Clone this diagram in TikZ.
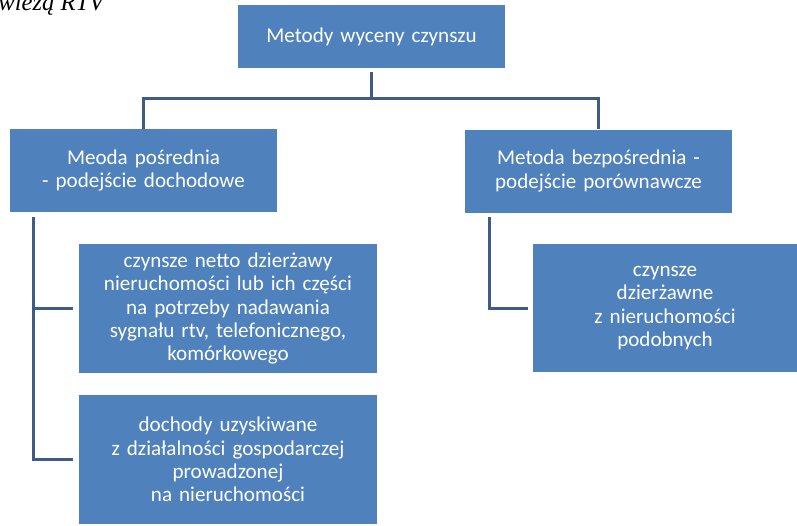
\documentclass[tikz,border=0pt]{standalone}
\usepackage{fontspec}
\setmainfont{Carlito}
\newfontfamily\capfont{Liberation Serif}
\usepackage{xcolor}
\definecolor{myblu1}{HTML}{4F81BD}
\definecolor{myblu2}{HTML}{3E5C86}
\usepackage{tikz}
\usetikzlibrary{positioning}
\tikzstyle{method} = [rectangle, minimum height=1.66cm, text width=5.1cm, align=center, fill=myblu1, text=white, font=\fontsize{12}{13.3}\selectfont]
\tikzstyle{source} = [rectangle, minimum height=2.58cm, text width=5.7cm, align=center, fill=myblu1, text=white, font=\fontsize{12}{13.3}\selectfont]
\tikzstyle{link} = [line width=1.7pt, myblu2]

\begin{document}
\begin{tikzpicture}[x=0.02cm,y=-0.02cm]
	\useasboundingbox (0,0) rectangle (797,525);
	\node (frag) [anchor=base west, inner sep=0pt, font=\capfont\itshape\fontsize{14}{16}\selectfont] at (-2,10) {wieżą RTV};
	\node (top) [method, minimum width=5.34cm, minimum height=1.26cm] at (371.5,36.5) {Metody wyceny czynszu};
	\node (ind) [method, minimum width=5.3cm] at (143.5,170.5) {Meoda pośrednia\\- podejście dochodowe};
	\node (dir) [method, minimum width=5.3cm] at (598.5,171) {Metoda bezpośrednia -\\podejście porównawcze};
	\node (rent) [source, minimum width=5.96cm] at (228,308.5) {czynsze netto dzierżawy\\nieruchomości lub ich części\\na potrzeby nadawania\\sygnału rtv, telefonicznego,\\komórkowego};
	\node (income) [source, minimum width=5.96cm] at (228,459.5) {dochody uzyskiwane\\z działalności gospodarczej\\prowadzonej\\na nieruchomości};
	\node (lease) [source, minimum width=5.28cm, text width=5cm] at (665,308) {czynsze\\dzierżawne\\z nieruchomości\\podobnych};
	\draw [link] ([yshift=-0.08cm]top.south) -- ++(0,26) -| (ind.north);
	\draw [link] ([yshift=-0.08cm]top.south) -- ++(0,26) -| (dir.north);
	\draw [link] ([xshift=0.48cm,yshift=-0.1cm]ind.south west) |- ([xshift=-0.12cm]rent.west);
	\draw [link] ([xshift=0.48cm,yshift=-0.1cm]ind.south west) |- ([xshift=-0.12cm]income.west);
	\draw [link] ([xshift=0.5cm,yshift=-0.08cm]dir.south west) |- ([xshift=-0.1cm]lease.west);
\end{tikzpicture}
\end{document}
